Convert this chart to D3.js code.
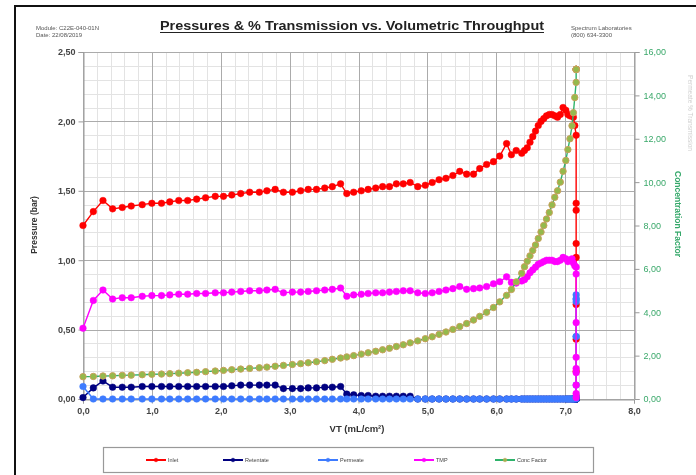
<!DOCTYPE html>
<html>
<head>
<meta charset="utf-8">
<script src="https://cdn.jsdelivr.net/npm/d3@7/dist/d3.min.js"></script>
<style>
  html, body { margin: 0; padding: 0; background: #fff; }
  svg { display: block; font-family: "Liberation Sans", Arial, sans-serif; filter: blur(0.35px); }
</style>
</head>
<body>
<div id="chart"></div>
<script>
var width = 696;
var height = 475;

// VT (mL/cm2) sample points
var vt = [0.00, 0.15, 0.29, 0.43, 0.57, 0.70, 0.86, 1.00, 1.14, 1.26, 1.39, 1.52, 1.65, 1.78, 1.92,
    2.04, 2.16, 2.29, 2.42, 2.56, 2.67, 2.79, 2.91, 3.04, 3.16, 3.27, 3.39, 3.51, 3.62, 3.74,
    3.83, 3.93, 4.04, 4.14, 4.25, 4.35, 4.45, 4.55, 4.65, 4.75, 4.86, 4.97, 5.07, 5.17, 5.27,
    5.37, 5.47, 5.57, 5.67, 5.76, 5.86, 5.96, 6.05, 6.15, 6.22, 6.29, 6.37,
    6.41, 6.45, 6.49, 6.53, 6.57, 6.61, 6.65, 6.69, 6.73, 6.77, 6.81, 6.85, 6.89, 6.93, 6.97,
    7.01, 7.04, 7.07, 7.10, 7.12, 7.14, 7.16,
    7.16, 7.16, 7.16, 7.16, 7.16, 7.16, 7.16, 7.16];

// pressures (bar)
var inlet = [1.25, 1.35, 1.43, 1.37, 1.38, 1.39, 1.40, 1.41, 1.41, 1.42, 1.43, 1.43, 1.44, 1.45, 1.46,
    1.46, 1.47, 1.48, 1.49, 1.49, 1.50, 1.51, 1.49, 1.49, 1.50, 1.51, 1.51, 1.52, 1.53, 1.55,
    1.48, 1.49, 1.50, 1.51, 1.52, 1.53, 1.53, 1.55, 1.55, 1.56, 1.53, 1.54, 1.56, 1.58, 1.59,
    1.61, 1.64, 1.62, 1.62, 1.66, 1.69, 1.71, 1.75, 1.84, 1.76, 1.79, 1.77,
    1.79, 1.81, 1.85, 1.89, 1.93, 1.97, 2.00, 2.02, 2.04, 2.05, 2.05, 2.04, 2.03, 2.05, 2.10,
    2.08, 2.05, 2.04, 2.05, 2.03, 1.97, 1.90,
    1.41, 1.36, 1.12, 1.02, 0.68, 0.43, 0.20, 0.02];

var retentate = [0.01, 0.08, 0.13, 0.085, 0.085, 0.085, 0.09, 0.09, 0.09, 0.09, 0.09, 0.09, 0.09, 0.09, 0.09,
    0.09, 0.095, 0.10, 0.10, 0.10, 0.10, 0.10, 0.075, 0.075, 0.075, 0.08, 0.08, 0.085, 0.085, 0.09,
    0.035, 0.03, 0.025, 0.025, 0.02, 0.02, 0.02, 0.02, 0.02, 0.02, 0, 0, 0, 0, 0,
    0, 0, 0, 0, 0, 0, 0, 0, 0, 0, 0, 0,
    0, 0, 0, 0, 0, 0, 0, 0, 0, 0, 0, 0, 0, 0, 0,
    0, 0, 0, 0, 0, 0, 0,
    0, 0, 0, 0, 0, 0, 0, 0];

var permeate = [0.09, 0, 0, 0, 0, 0, 0, 0, 0, 0, 0, 0, 0, 0, 0,
    0, 0, 0, 0, 0, 0, 0, 0, 0, 0, 0, 0, 0, 0, 0,
    0, 0, 0, 0, 0, 0, 0, 0, 0, 0, 0, 0, 0, 0, 0,
    0, 0, 0, 0, 0, 0, 0, 0, 0, 0, 0, 0,
    0, 0, 0, 0, 0, 0, 0, 0, 0, 0, 0, 0, 0, 0, 0,
    0, 0, 0, 0, 0, 0, 0,
    0.10, 0.45, 0.70, 0.72, 0.75, 0.72, 0.45, 0.02];

var tmp = [0.51, 0.71, 0.785, 0.72, 0.73, 0.73, 0.74, 0.745, 0.745, 0.75, 0.755, 0.755, 0.76, 0.76, 0.765,
    0.765, 0.77, 0.775, 0.78, 0.78, 0.785, 0.79, 0.765, 0.77, 0.77, 0.775, 0.78, 0.785, 0.79, 0.80,
    0.74, 0.75, 0.755, 0.76, 0.765, 0.765, 0.77, 0.775, 0.78, 0.78, 0.765, 0.76, 0.765, 0.775, 0.785,
    0.795, 0.81, 0.79, 0.795, 0.80, 0.81, 0.83, 0.845, 0.88, 0.84, 0.835, 0.85,
    0.86, 0.88, 0.91, 0.93, 0.95, 0.97, 0.98, 0.99, 1.00, 1.00, 1.00, 0.99, 0.99, 1.00, 1.02,
    1.01, 0.99, 1.00, 1.01, 0.98, 0.96, 0.95,
    0.90, 0.55, 0.30, 0.22, 0.19, 0.10, 0.04, 0.01];

// concentration factor (right axis)
var concFactor = [1.03, 1.04, 1.06, 1.07, 1.09, 1.10, 1.12, 1.14, 1.15, 1.17, 1.19, 1.21, 1.23, 1.26, 1.29,
    1.32, 1.35, 1.38, 1.41, 1.44, 1.47, 1.51, 1.55, 1.59, 1.63, 1.67, 1.72, 1.77, 1.83, 1.89,
    1.94, 2.00, 2.07, 2.13, 2.20, 2.27, 2.34, 2.42, 2.50, 2.59, 2.68, 2.78, 2.87, 2.98, 3.09,
    3.21, 3.34, 3.48, 3.64, 3.81, 4.00, 4.22, 4.48, 4.78, 5.05, 5.40, 5.80,
    6.10, 6.35, 6.60, 6.85, 7.10, 7.40, 7.70, 8.00, 8.30, 8.60, 8.95, 9.30, 9.60, 10.00, 10.50,
    11.00, 11.50, 12.00, 12.60, 13.20, 13.90, 14.60,
    15.20, 15.20, 15.20, 15.20, 15.20, 15.20, 15.20, 15.20];

var xTicks = [0, 1, 2, 3, 4, 5, 6, 7, 8];
var yLeftTicks = [0, 0.5, 1, 1.5, 2, 2.5];
var yRightTicks = [0, 2, 4, 6, 8, 10, 12, 14, 16];

var series = [
    { name: "Inlet", values: inlet, color: "#ff0000", fill: "#ff0000", stroke: "#ff0000", axis: "left" },
    { name: "Retentate", values: retentate, color: "#000080", fill: "#000080", stroke: "#000080", axis: "left" },
    { name: "Permeate", values: permeate, color: "#3d7bff", fill: "#3d7bff", stroke: "#3d7bff", axis: "left" },
    { name: "TMP", values: tmp, color: "#ff00ff", fill: "#ff00ff", stroke: "#ff00ff", axis: "left" },
    { name: "Conc Factor", values: concFactor, color: "#2fb36b", fill: "#94ba4c", stroke: "#c9a05c", axis: "right" }
];

var svg = d3.select("#chart").append("svg")
    .attr("width", width)
    .attr("height", height);

svg.append("rect").attr("width", width).attr("height", height).attr("fill", "#fff");

// outer frame (only left and top visible)
svg.append("path")
    .attr("d", "M15,475 L15,6 L696,6")
    .attr("fill", "none")
    .attr("stroke", "#111")
    .attr("stroke-width", 2);

var x = d3.scaleLinear().domain([0, 8]).range([83, 634]);
var yL = d3.scaleLinear().domain([0, 2.5]).range([399, 52]);
var yR = d3.scaleLinear().domain([0, 16]).range([399, 52]);

function comma(fmt) {
    var f = d3.format(fmt);
    return function (d) { return f(d).replace(".", ","); };
}

// grid
var grid = svg.append("g");
grid.selectAll(".vminor").data(d3.range(0, 41).map(function (i) { return i * 0.2; }))
    .enter().append("line")
    .attr("x1", function (d) { return Math.round(x(d)) + 0.5; })
    .attr("x2", function (d) { return Math.round(x(d)) + 0.5; })
    .attr("y1", yL(2.5)).attr("y2", yL(0))
    .attr("stroke", "#e3e3e3");
grid.selectAll(".hminor").data(d3.range(0, 26).map(function (i) { return i * 0.1; }))
    .enter().append("line")
    .attr("y1", function (d) { return Math.round(yL(d)) + 0.5; })
    .attr("y2", function (d) { return Math.round(yL(d)) + 0.5; })
    .attr("x1", x(0)).attr("x2", x(8))
    .attr("stroke", "#e3e3e3");
grid.selectAll(".vmajor").data(xTicks)
    .enter().append("line")
    .attr("x1", function (d) { return Math.round(x(d)) + 0.5; })
    .attr("x2", function (d) { return Math.round(x(d)) + 0.5; })
    .attr("y1", yL(2.5)).attr("y2", yL(0))
    .attr("stroke", "#ababab");
grid.selectAll(".hmajor").data(yLeftTicks)
    .enter().append("line")
    .attr("y1", function (d) { return Math.round(yL(d)) + 0.5; })
    .attr("y2", function (d) { return Math.round(yL(d)) + 0.5; })
    .attr("x1", x(0)).attr("x2", x(8))
    .attr("stroke", "#ababab");

// axes
var axL = svg.append("g").attr("transform", "translate(83.5,0)")
    .call(d3.axisLeft(yL).tickValues(yLeftTicks).tickFormat(comma(".2f")).tickSize(5).tickPadding(3));
var axR = svg.append("g").attr("transform", "translate(634.5,0)")
    .call(d3.axisRight(yR).tickValues(yRightTicks).tickFormat(comma(".2f")).tickSize(5).tickPadding(4));
var axB = svg.append("g").attr("transform", "translate(0,399.5)")
    .call(d3.axisBottom(x).tickValues(xTicks).tickFormat(comma(".1f")).tickSize(4).tickPadding(4));

[axL, axR, axB].forEach(function (a) {
    a.select(".domain").attr("stroke", "#9a9a9a");
    a.selectAll(".tick line").attr("stroke", "#9a9a9a");
    a.selectAll("text").attr("font-family", "Liberation Sans, Arial, sans-serif")
        .attr("font-size", 9).attr("font-weight", "bold").attr("fill", "#444");
});
axR.selectAll("text").attr("fill", "#3aa86a").attr("font-weight", "normal");

// series
var lineFor = function (s) {
    var yy = s.axis === "right" ? yR : yL;
    return d3.line()
        .x(function (d) { return x(d[0]); })
        .y(function (d) { return yy(d[1]); });
};

series.forEach(function (s) {
    var yy = s.axis === "right" ? yR : yL;
    var pts = vt.map(function (v, i) { return [v, s.values[i]]; });
    var g = svg.append("g");
    g.append("path")
        .datum(pts)
        .attr("d", lineFor(s))
        .attr("fill", "none")
        .attr("stroke", s.color)
        .attr("stroke-width", 1.4);
    g.selectAll("circle").data(pts).enter().append("circle")
        .attr("cx", function (d) { return x(d[0]); })
        .attr("cy", function (d) { return yy(d[1]); })
        .attr("r", s.axis === "right" ? 3.2 : 3.3)
        .attr("fill", s.fill)
        .attr("stroke", s.stroke)
        .attr("stroke-width", s.axis === "right" ? 1 : 0.5);
});

// titles and header text
svg.append("text")
    .attr("x", 352).attr("y", 30)
    .attr("text-anchor", "middle")
    .attr("font-size", 12).attr("font-weight", "bold").attr("fill", "#222")
    .attr("textLength", 384).attr("lengthAdjust", "spacingAndGlyphs")
    .text("Pressures & % Transmission vs. Volumetric Throughput");
svg.append("line")
    .attr("x1", 160).attr("x2", 544).attr("y1", 32.5).attr("y2", 32.5)
    .attr("stroke", "#222").attr("stroke-width", 1);

var small = [
    { t: "Module: C22E-040-01N", x: 36, y: 30 },
    { t: "Date: 22/08/2019", x: 36, y: 37 },
    { t: "Spectrum Laboratories", x: 571, y: 30 },
    { t: "(800) 634-3300", x: 571, y: 37 }
];
svg.selectAll(".hdr").data(small).enter().append("text")
    .attr("x", function (d) { return d.x; })
    .attr("y", function (d) { return d.y; })
    .attr("font-size", 6).attr("fill", "#555")
    .text(function (d) { return d.t; });

svg.append("text")
    .attr("transform", "translate(37,225) rotate(-90)")
    .attr("text-anchor", "middle")
    .attr("font-size", 8.5).attr("font-weight", "bold").attr("fill", "#333")
    .text("Pressure (bar)");

svg.append("text")
    .attr("transform", "translate(675,214) rotate(90)")
    .attr("text-anchor", "middle")
    .attr("font-size", 8.5).attr("font-weight", "bold").attr("fill", "#35a86a")
    .text("Concentration Factor");

svg.append("text")
    .attr("transform", "translate(688,113) rotate(90)")
    .attr("text-anchor", "middle")
    .attr("font-size", 6.5).attr("fill", "#cfcfcf")
    .text("Permeate % Transmission");

svg.append("text")
    .attr("x", 357).attr("y", 432)
    .attr("text-anchor", "middle")
    .attr("font-size", 9.5).attr("font-weight", "bold").attr("fill", "#333")
    .text("VT (mL/cm²)");

// legend
var legendX = [146, 223, 318, 414, 495];
var legend = svg.append("g");
legend.append("rect")
    .attr("x", 103.5).attr("y", 447.5).attr("width", 490).attr("height", 25)
    .attr("fill", "#fff").attr("stroke", "#999").attr("stroke-width", 1.2);
series.forEach(function (s, i) {
    var lx = legendX[i];
    legend.append("line")
        .attr("x1", lx).attr("x2", lx + 20).attr("y1", 460).attr("y2", 460)
        .attr("stroke", s.color).attr("stroke-width", 2);
    legend.append("circle")
        .attr("cx", lx + 10).attr("cy", 460).attr("r", 1.8)
        .attr("fill", s.fill).attr("stroke", s.stroke).attr("stroke-width", 0.6);
    legend.append("text")
        .attr("x", lx + 22).attr("y", 462)
        .attr("font-size", 5.5).attr("fill", "#444")
        .text(s.name);
});
</script>
</body>
</html>
